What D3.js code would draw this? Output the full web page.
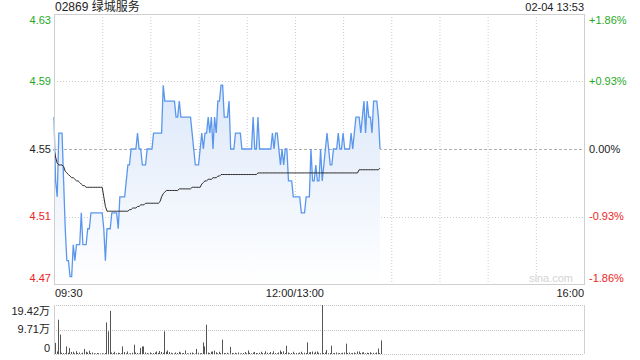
<!DOCTYPE html>
<html>
<head>
<meta charset="utf-8">
<script src="https://cdn.jsdelivr.net/npm/d3@7"></script>
<style>
  body { margin: 0; background: #fff; }
  text { font-family: "Liberation Sans", Arial, "Noto Sans CJK SC", sans-serif; }
</style>
</head>
<body>
<div class="chart"></div>
<script>
// ---- data ----
var title = "02869 绿城服务";
var stamp = "02-04 13:53";
var prevClose = 4.55;
var pctTicks = [1.86, 0.93, 0, -0.93, -1.86];
var priceLabels = ["4.63", "4.59", "4.55", "4.51", "4.47"];
var pctLabels = ["+1.86%", "+0.93%", "0.00%", "-0.93%", "-1.86%"];
var timeLabels = ["09:30", "12:00/13:00", "16:00"];
var timeLabelMinutes = [0, 150, 330];
var gridMinutes = [30, 60, 90, 120, 150, 180, 210, 240, 270, 300];
var volTicks = [19.42, 9.71, 0];
var volLabels = ["19.42万", "9.71万", "0"];

// one value per minute from 09:30 (index 0) to 13:53 (index 203)
var prices = [
  4.57,4.53,4.52,4.56,4.56,4.56,4.53,4.50,4.48,4.48,
  4.47,4.47,4.49,4.48,4.49,4.49,4.49,4.51,4.49,4.49,
  4.49,4.50,4.50,4.51,4.51,4.51,4.51,4.51,4.51,4.51,
  4.51,4.50,4.48,4.50,4.50,4.50,4.51,4.51,4.51,4.51,
  4.50,4.52,4.52,4.52,4.52,4.53,4.54,4.54,4.55,4.55,
  4.55,4.55,4.56,4.55,4.55,4.54,4.54,4.54,4.55,4.55,
  4.55,4.55,4.56,4.56,4.56,4.56,4.56,4.56,4.59,4.58,
  4.58,4.58,4.58,4.58,4.58,4.58,4.57,4.57,4.58,4.57,
  4.57,4.57,4.57,4.57,4.57,4.57,4.56,4.55,4.54,4.54,
  4.54,4.55,4.56,4.55,4.56,4.56,4.57,4.56,4.57,4.55,
  4.57,4.56,4.58,4.58,4.59,4.59,4.57,4.57,4.57,4.58,
  4.55,4.55,4.55,4.56,4.56,4.56,4.56,4.55,4.55,4.55,
  4.55,4.55,4.55,4.55,4.57,4.55,4.55,4.57,4.55,4.55,
  4.55,4.55,4.55,4.55,4.55,4.55,4.56,4.55,4.56,4.56,
  4.55,4.54,4.55,4.54,4.55,4.55,4.53,4.53,4.53,4.52,
  4.52,4.52,4.52,4.52,4.51,4.51,4.51,4.52,4.52,4.52,
  4.55,4.53,4.53,4.54,4.53,4.53,4.55,4.53,4.54,4.55,
  4.56,4.55,4.54,4.54,4.55,4.55,4.55,4.56,4.55,4.55,
  4.56,4.55,4.55,4.55,4.55,4.56,4.55,4.56,4.57,4.57,
  4.57,4.56,4.57,4.58,4.56,4.58,4.57,4.57,4.56,4.58,
  4.58,4.58,4.57,4.55
];

var avgPrices = [
  4.550,4.545,4.541,4.540,4.540,4.540,4.539,4.536,4.535,4.534,
  4.533,4.532,4.532,4.531,4.530,4.530,4.529,4.528,4.527,4.527,
  4.526,4.526,4.526,4.526,4.526,4.526,4.526,4.526,4.526,4.526,
  4.526,4.520,4.514,4.511,4.511,4.511,4.511,4.511,4.511,4.511,
  4.511,4.511,4.511,4.511,4.511,4.511,4.511,4.512,4.512,4.513,
  4.513,4.513,4.514,4.514,4.515,4.515,4.515,4.516,4.516,4.516,
  4.516,4.516,4.516,4.516,4.516,4.516,4.517,4.520,4.522,4.523,
  4.524,4.524,4.524,4.524,4.524,4.524,4.524,4.524,4.525,4.525,
  4.525,4.525,4.525,4.525,4.525,4.525,4.526,4.526,4.526,4.526,
  4.526,4.526,4.528,4.529,4.530,4.530,4.531,4.531,4.531,4.532,
  4.532,4.532,4.533,4.533,4.534,4.534,4.534,4.534,4.534,4.534,
  4.534,4.534,4.534,4.534,4.534,4.534,4.534,4.534,4.534,4.534,
  4.534,4.534,4.534,4.534,4.534,4.534,4.534,4.535,4.535,4.535,
  4.535,4.535,4.535,4.535,4.535,4.535,4.535,4.535,4.535,4.535,
  4.535,4.535,4.535,4.535,4.535,4.535,4.535,4.535,4.535,4.535,
  4.535,4.535,4.535,4.535,4.535,4.535,4.535,4.535,4.535,4.535,
  4.535,4.535,4.535,4.535,4.535,4.535,4.535,4.535,4.535,4.535,
  4.535,4.535,4.535,4.535,4.535,4.535,4.535,4.535,4.535,4.535,
  4.535,4.535,4.535,4.535,4.535,4.535,4.535,4.535,4.535,4.535,
  4.537,4.537,4.537,4.537,4.537,4.537,4.537,4.537,4.537,4.537,
  4.537,4.537,4.537,4.538
];

// volume per minute, in 万 shares
var volumes = [
  4.4,1.0,13.6,7.7,0.5,0.4,0.3,3.0,0.5,2.4,
  0.8,0.9,0.3,1.1,0.4,0.6,0.2,0.5,2.0,0.9,
  0.6,1.3,0.4,0.6,0.3,0.2,0.4,0.3,0.2,0.3,
  0.2,0.4,12.5,9.0,17.1,0.6,0.4,0.9,0.3,0.5,
  0.4,0.3,3.0,0.8,0.3,1.0,0.2,0.3,0.5,3.7,
  0.6,0.4,0.3,2.4,3.0,3.0,0.6,0.4,0.2,0.6,
  0.3,0.4,0.6,1.0,0.4,1.2,0.8,0.5,9.0,0.9,
  1.4,0.8,0.5,0.3,0.2,0.6,0.4,0.9,0.6,0.3,
  0.4,1.4,0.3,0.2,0.5,0.6,0.3,0.2,2.0,0.5,
  0.3,0.4,4.6,3.0,11.6,0.6,0.4,0.9,1.0,1.3,
  0.7,0.3,0.9,0.4,5.7,0.4,0.3,0.5,0.2,2.8,
  0.4,0.3,0.5,0.3,0.6,0.2,0.3,0.4,0.8,0.3,
  1.4,0.5,0.3,0.6,0.8,0.4,0.3,0.5,0.9,0.4,
  0.3,1.1,0.5,0.3,0.8,0.3,1.1,0.4,0.3,0.6,
  1.4,0.8,1.1,0.4,3.3,0.6,0.3,0.4,0.9,0.3,
  0.4,0.3,0.6,0.9,0.3,0.5,0.4,4.6,0.6,0.8,
  1.0,0.4,0.9,1.0,0.5,0.3,19.42,0.4,0.6,1.6,
  0.3,0.4,3.3,0.3,0.4,0.6,0.3,0.4,0.3,0.5,
  0.6,4.1,0.4,0.6,0.3,0.4,0.6,0.3,1.0,1.0,
  0.4,0.6,0.7,0.3,0.5,0.4,0.7,0.3,0.5,0.3,
  0.6,2.2,0.4,5.4
];

var svgWidth = 640;
var svgHeight = 360;

var plot = { left: 54, right: 584, top: 14, bottom: 284 };
var volPlot = { top: 305, bottom: 354 };

var green = "#1fa91f";
var red = "#ee2424";
var gridColor = "#cccccc";

var svg = d3.select(".chart")
  .append("svg")
  .attr("width", svgWidth)
  .attr("height", svgHeight);

// scales
var x = d3.scaleLinear()
  .domain([0, 330])
  .range([plot.left, plot.right]);

var y = d3.scaleLinear()
  .domain([prevClose * (1 - 0.0186), prevClose * (1 + 0.0186)])
  .range([plot.bottom, plot.top]);

var yVol = d3.scaleLinear()
  .domain([0, 19.42])
  .range([volPlot.bottom, volPlot.top]);

function pctY(p) { return y(prevClose * (1 + p / 100)); }
function tickColor(p) { return p > 0 ? green : (p < 0 ? red : "#222"); }

// gradient for the area under the price line
var grad = svg.append("defs").append("linearGradient")
  .attr("id", "areaGrad")
  .attr("gradientUnits", "userSpaceOnUse")
  .attr("x1", 0).attr("x2", 0)
  .attr("y1", plot.top).attr("y2", plot.bottom);
grad.append("stop").attr("offset", "0%").attr("stop-color", "#cfdff7");
grad.append("stop").attr("offset", "100%").attr("stop-color", "#ffffff");

// grid lines
svg.append("g").selectAll("line")
  .data(gridMinutes)
  .enter()
  .append("line")
  .attr("x1", function (d) { return x(d) + 0.5; })
  .attr("x2", function (d) { return x(d) + 0.5; })
  .attr("y1", plot.top)
  .attr("y2", plot.bottom)
  .attr("stroke", gridColor)
  .attr("stroke-dasharray", "1,2");

svg.append("g").selectAll("line")
  .data(pctTicks.filter(function (p) { return Math.abs(p) < 1.8; }))
  .enter()
  .append("line")
  .attr("x1", plot.left)
  .attr("x2", plot.right)
  .attr("y1", function (d) { return Math.round(pctY(d)) + 0.5; })
  .attr("y2", function (d) { return Math.round(pctY(d)) + 0.5; })
  .attr("stroke", function (d) { return d === 0 ? "#b0b0b0" : gridColor; })
  .attr("stroke-dasharray", function (d) { return d === 0 ? "3,2" : "1,2"; });

// area + price line
var area = d3.area()
  .x(function (d, i) { return x(i); })
  .y0(plot.bottom)
  .y1(function (d) { return y(d); });

svg.append("path")
  .datum(prices)
  .attr("d", area)
  .attr("fill", "url(#areaGrad)");

var line = d3.line()
  .x(function (d, i) { return x(i); })
  .y(function (d) { return y(d); });

svg.append("path")
  .datum(prices)
  .attr("d", line)
  .attr("fill", "none")
  .attr("stroke", "#5a97ec")
  .attr("stroke-width", 1.3);

svg.append("path")
  .datum(avgPrices)
  .attr("d", line)
  .attr("fill", "none")
  .attr("stroke", "#2b2b2b")
  .attr("stroke-width", 1);

// frame of the price panel
svg.append("rect")
  .attr("x", plot.left + 0.5)
  .attr("y", plot.top + 0.5)
  .attr("width", plot.right - plot.left)
  .attr("height", plot.bottom - plot.top)
  .attr("fill", "none")
  .attr("stroke", "#cfcfcf");

// watermark
svg.append("text")
  .attr("x", plot.right - 11)
  .attr("y", plot.bottom - 2)
  .attr("text-anchor", "end")
  .attr("font-size", 11)
  .attr("fill", "#d4d4d4")
  .text("sina.com");

// left price labels and right percent labels
pctTicks.forEach(function (p, i) {
  var ty = pctY(p);
  if (i === 0) ty += 6;
  if (i === pctTicks.length - 1) ty -= 6;
  svg.append("text")
    .attr("x", plot.left - 3)
    .attr("y", ty)
    .attr("dy", "0.35em")
    .attr("text-anchor", "end")
    .attr("font-size", 11)
    .attr("fill", tickColor(p))
    .text(priceLabels[i]);
  svg.append("text")
    .attr("x", plot.right + 5)
    .attr("y", ty)
    .attr("dy", "0.35em")
    .attr("font-size", 11)
    .attr("fill", tickColor(p))
    .text(pctLabels[i]);
});

// time labels
timeLabels.forEach(function (t, i) {
  var anchor = i === 0 ? "start" : (i === timeLabels.length - 1 ? "end" : "middle");
  svg.append("text")
    .attr("x", x(timeLabelMinutes[i]) + (i === 0 ? 1 : 0))
    .attr("y", 293)
    .attr("dy", "0.35em")
    .attr("text-anchor", anchor)
    .attr("font-size", 11)
    .attr("fill", "#222")
    .text(t);
});

// title and time stamp
svg.append("text")
  .attr("x", plot.left + 1)
  .attr("y", 11)
  .attr("font-size", 12)
  .attr("fill", "#222")
  .text(title);

svg.append("text")
  .attr("x", plot.right)
  .attr("y", 11)
  .attr("text-anchor", "end")
  .attr("font-size", 11)
  .attr("fill", "#222")
  .text(stamp);

// ---- volume panel ----
svg.append("g").selectAll("line")
  .data(volTicks)
  .enter()
  .append("line")
  .attr("x1", plot.left)
  .attr("x2", plot.right)
  .attr("y1", function (d) { return Math.round(yVol(d)) + 0.5; })
  .attr("y2", function (d) { return Math.round(yVol(d)) + 0.5; })
  .attr("stroke", "#c4c4c4")
  .attr("stroke-dasharray", "1,1");

svg.append("line")
  .attr("x1", plot.left + 0.5).attr("x2", plot.left + 0.5)
  .attr("y1", volPlot.top).attr("y2", volPlot.bottom)
  .attr("stroke", "#d0d0d0");
svg.append("line")
  .attr("x1", plot.right + 0.5).attr("x2", plot.right + 0.5)
  .attr("y1", volPlot.top).attr("y2", volPlot.bottom)
  .attr("stroke", "#d0d0d0");

svg.append("g").selectAll("rect")
  .data(volumes)
  .enter()
  .append("rect")
  .attr("x", function (d, i) { return Math.round(x(i)) + 1; })
  .attr("y", function (d) { return yVol(d); })
  .attr("width", 1)
  .attr("height", function (d) { return yVol(0) - yVol(d); })
  .attr("fill", "#555");

volTicks.forEach(function (v, i) {
  var ty = yVol(v);
  if (i === 0) ty += 6;
  if (i === volTicks.length - 1) ty -= 6;
  svg.append("text")
    .attr("x", plot.left - 4)
    .attr("y", ty)
    .attr("dy", "0.35em")
    .attr("text-anchor", "end")
    .attr("font-size", 11)
    .attr("fill", "#222")
    .text(volLabels[i]);
});
</script>
</body>
</html>
